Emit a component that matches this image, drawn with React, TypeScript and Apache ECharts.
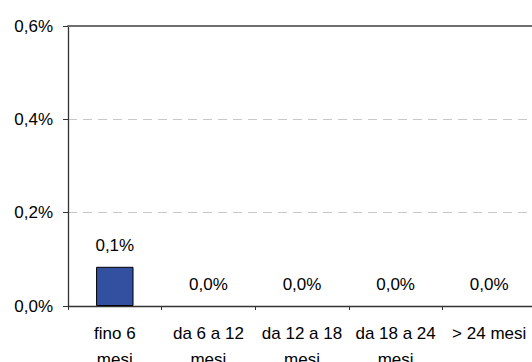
import React, { useEffect, useRef } from "react";
import * as echarts from "echarts";

const categories = ["fino 6\nmesi", "da 6 a 12\nmesi", "da 12 a 18\nmesi", "da 18 a 24\nmesi", "> 24 mesi"];
const values = [0.084, 0, 0, 0, 0];
const yTicks = { min: 0, max: 0.6, interval: 0.2 };

const fmt = (v: number) => v.toFixed(1).replace(".", ",") + "%";

export default function App() {
  const ref = useRef<HTMLDivElement>(null);
  useEffect(() => {
    const chart = echarts.init(ref.current!, null, { renderer: "svg" });
    const font = "Liberation Sans, Arial, sans-serif";
    chart.setOption({
      animation: false,
      grid: {
        left: 68,
        top: 26,
        width: 468,
        height: 280,
        containLabel: false,
        outerBoundsMode: "none",
      },
      xAxis: [
        {
          type: "category",
          data: categories,
          axisLine: { lineStyle: { color: "#333", width: 1.3 } },
          axisTick: { show: true, length: 4, lineStyle: { color: "#333" } },
          axisLabel: {
            color: "#000",
            fontFamily: font,
            fontSize: 17,
            lineHeight: 26,
            margin: 14,
            interval: 0,
          },
        },
        {
          type: "category",
          data: categories,
          position: "top",
          axisLine: { lineStyle: { color: "#6f6f6f", width: 2 } },
          axisTick: { show: false },
          axisLabel: { show: false },
        },
      ],
      yAxis: {
        type: "value",
        min: yTicks.min,
        max: yTicks.max,
        interval: yTicks.interval,
        axisLine: { show: true, lineStyle: { color: "#333", width: 1.3 } },
        axisTick: { show: true, length: 5, lineStyle: { color: "#333" } },
        axisLabel: {
          color: "#000",
          fontFamily: font,
          fontSize: 17,
          margin: 15,
          formatter: (v: number) => fmt(v),
        },
        splitLine: { show: true, lineStyle: { color: "#c8c8c8", type: [9, 6], width: 1 } },
      },
      series: [
        {
          type: "bar",
          data: values.map((v) => ({
            value: v,
            itemStyle: { borderWidth: v > 0 ? 1 : 0 },
          })),
          barWidth: "40%",
          itemStyle: { color: "#3350a0", borderColor: "#000", borderWidth: 1 },
          label: {
            show: true,
            position: "top",
            distance: 13,
            color: "#000",
            fontFamily: font,
            fontSize: 17,
            formatter: (p: any) => fmt(p.value),
          },
        },
      ],
    });
    return () => chart.dispose();
  }, []);
  return (
    <div
      ref={ref}
      style={{ position: "absolute", left: 0, top: 0, width: 532, height: 362 }}
    />
  );
}
